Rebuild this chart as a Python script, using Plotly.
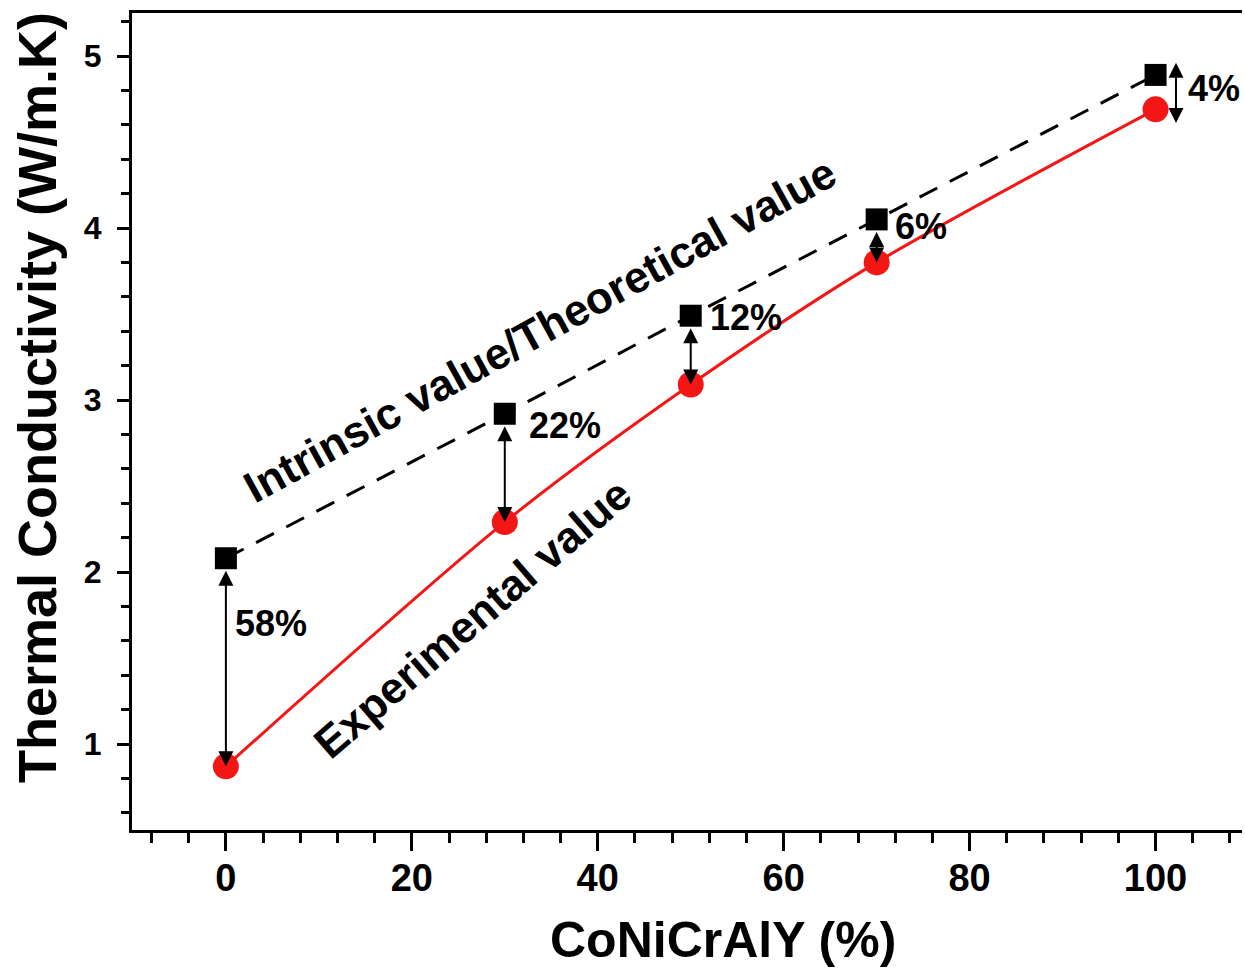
import plotly.graph_objects as go

# CoNiCrAlY content (%)
content = [0, 30, 50, 70, 100]
# Intrinsic / theoretical thermal conductivity (W/m.K)
theoretical = [2.08, 2.92, 3.49, 4.05, 4.89]
# Measured thermal conductivity (W/m.K)
experimental = [0.87, 2.29, 3.09, 3.80, 4.69]
# Relative reduction labels
reduction = ["58%", "22%", "12%", "6%", "4%"]

FONT = "Liberation Sans, Arial, sans-serif"
RED = "#f41515"

fig = go.Figure()

fig.add_trace(go.Scatter(
    x=content, y=theoretical, mode="lines",
    line=dict(color="black", width=3, dash="20px,14px"),
    hoverinfo="skip", showlegend=False,
))
fig.add_trace(go.Scatter(
    x=content, y=experimental, mode="lines",
    line=dict(color=RED, width=3, shape="spline", smoothing=0.8),
    hoverinfo="skip", showlegend=False,
))
fig.add_trace(go.Scatter(
    x=content, y=theoretical, mode="markers",
    marker=dict(symbol="square", size=22, color="black"),
    showlegend=False,
))
fig.add_trace(go.Scatter(
    x=content, y=experimental, mode="markers",
    marker=dict(symbol="circle", size=26, color=RED),
    showlegend=False,
))

annotations = []
# double-headed arrows from the theoretical value to the measured one
for i, (cx, t, e) in enumerate(zip(content, theoretical, experimental)):
    if i == len(content) - 1:
        ax_x = cx + 2.2
        y0, y1 = t + 0.08, e - 0.08
        sstand = 0
    else:
        ax_x = cx
        y0, y1 = t, e
        sstand = 11
    annotations.append(dict(
        x=ax_x, y=y1, ax=ax_x, ay=y0, xref="x", yref="y", axref="x", ayref="y",
        text="", showarrow=True, arrowhead=2, startarrowhead=2, arrowside="end+start",
        arrowsize=1.5, startarrowsize=1.5, arrowwidth=2, arrowcolor="black",
        startstandoff=sstand,
    ))

# reduction labels, placed beside each arrow
label_pos = [(0.8, 1.70), (32.4, 2.85), (51.9, 3.48), (71.8, 4.01), (103.3, 4.81)]
for (lx, ly), txt in zip(label_pos, reduction):
    annotations.append(dict(
        x=lx, y=ly, xref="x", yref="y", text=txt, showarrow=False,
        xanchor="left", yanchor="middle",
        font=dict(family=FONT, size=36, color="black", weight="bold"),
    ))

annotations.append(dict(
    x=33.8, y=3.41, xref="x", yref="y", text="Intrinsic value/Theoretical value",
    showarrow=False, textangle=-28.8, xanchor="center", yanchor="middle",
    font=dict(family=FONT, size=44, color="black", weight="bold"),
))
annotations.append(dict(
    x=26.5, y=1.73, xref="x", yref="y", text="Experimental value",
    showarrow=False, textangle=-40.7, xanchor="center", yanchor="middle",
    font=dict(family=FONT, size=44, color="black", weight="bold"),
))

# layout geometry in pixels
L, R, T, B = 132, 3, 13, 142
W, H = 1245, 972
pw, ph = W - L - R, H - T - B

# axis titles, positioned from pixel centres
titles = [
    ("CoNiCrAlY (%)", 723, 940, 0, 50),
    ("Thermal Conductivity (W/m.K)", 37, 398, -90, 54),
]
for txt, px, py, ang, size in titles:
    annotations.append(dict(
        x=(px - L) / pw, y=(H - B - py) / ph, xref="paper", yref="paper",
        text=txt, showarrow=False, textangle=ang,
        xanchor="center", yanchor="middle",
        font=dict(family=FONT, size=size, color="black", weight="bold"),
    ))

fig.update_layout(
    width=W, height=H,
    margin=dict(l=L, r=R, t=T, b=B),
    paper_bgcolor="white", plot_bgcolor="white",
    annotations=annotations,
    showlegend=False,
)
fig.update_xaxes(
    range=[-10.1, 109.3], showgrid=False, zeroline=False,
    showline=True, linecolor="black", linewidth=3, mirror=True,
    ticks="outside", tickmode="linear", tick0=0, dtick=20,
    ticklen=18, tickwidth=2.5, tickcolor="black", ticklabelstandoff=-6,
    minor=dict(ticks="outside", tick0=0, dtick=4, ticklen=10, tickwidth=2.5, tickcolor="black"),
    tickfont=dict(family=FONT, size=38, color="black", weight="bold"),
)
fig.update_yaxes(
    range=[0.5, 5.25], showgrid=False, zeroline=False,
    showline=True, linecolor="black", linewidth=3,
    ticks="outside", tickmode="linear", tick0=0, dtick=1,
    ticklen=12, tickwidth=2.5, tickcolor="black", ticklabelstandoff=9,
    minor=dict(ticks="outside", tick0=0, dtick=0.2, ticklen=8, tickwidth=2.5, tickcolor="black"),
    tickfont=dict(family=FONT, size=32, color="black", weight="bold"),
)

fig.write_html("out.html")
